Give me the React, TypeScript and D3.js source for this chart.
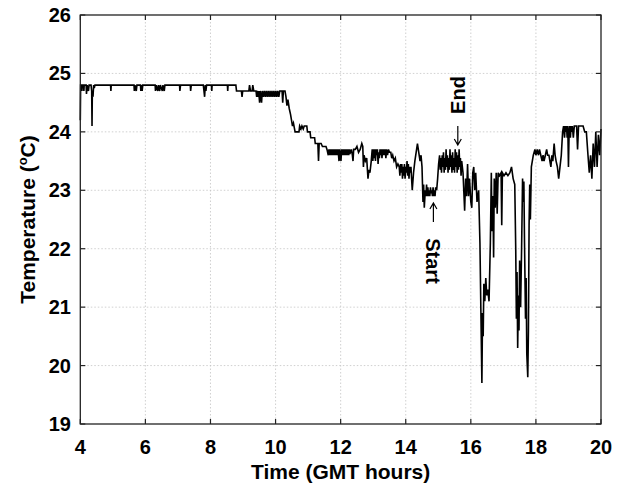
import React from "react";
import * as d3 from "d3";

// ---- data (time in GMT hours, temperature in °C) ----
const plateauSeries: [number, number][] = [
  [4.00,24.20],[4.01,24.80],[4.04,24.80],[4.05,24.70],[4.06,24.80],[4.10,24.80],[4.11,24.70],[4.12,24.80],
  [4.18,24.80],[4.19,24.65],[4.21,24.80],[4.25,24.70],[4.27,24.80],[4.33,24.80],[4.35,24.70],[4.36,24.10],
  [4.37,24.70],[4.39,24.60],[4.41,24.80],[4.43,24.75],[4.45,24.80],[4.93,24.80],[4.94,24.70],[4.95,24.80],
  [5.65,24.80],[5.66,24.70],[5.68,24.80],[5.72,24.70],[5.74,24.80],[5.85,24.80],[5.86,24.70],[5.88,24.80],
  [5.90,24.70],[5.92,24.80],[6.30,24.80],[6.31,24.70],[6.33,24.80],[6.38,24.70],[6.40,24.80],[6.44,24.70],
  [6.46,24.80],[6.52,24.70],[6.54,24.80],[6.58,24.70],[6.60,24.80],[7.05,24.80],[7.06,24.70],[7.08,24.80],
  [7.38,24.80],[7.39,24.70],[7.41,24.80],[7.78,24.80],[7.80,24.70],[7.82,24.60],[7.84,24.80],[7.86,24.70],
  [7.88,24.80],[8.03,24.80],[8.04,24.70],[8.05,24.80],[8.52,24.80],[8.53,24.70],[8.54,24.80],[8.78,24.80],
  [8.80,24.70],[8.95,24.70],[8.97,24.60],[8.99,24.70],
];

const descentSeries: [number, number][] = [
  [9.18,24.70],[9.20,24.80],[9.23,24.70],[9.28,24.70],[9.30,24.80],[9.33,24.70],[9.40,24.70],[9.42,24.60],
  [9.44,24.70],[9.46,24.60],[9.48,24.70],[9.51,24.50],[9.53,24.70],[9.55,24.60],[9.57,24.50],[9.59,24.70],
  [9.62,24.60],[9.65,24.70],[9.68,24.60],[9.71,24.70],[9.74,24.60],[9.77,24.70],[9.80,24.60],[9.83,24.70],
  [9.86,24.60],[9.89,24.70],[9.92,24.60],[9.95,24.70],[9.98,24.60],[10.01,24.70],[10.04,24.60],[10.07,24.70],
  [10.10,24.60],[10.13,24.70],[10.20,24.70],[10.22,24.50],[10.24,24.70],[10.29,24.70],[10.32,24.60],[10.35,24.45],
  [10.38,24.55],[10.42,24.40],[10.46,24.30],[10.49,24.20],[10.52,24.10],[10.55,24.15],[10.60,24.00],[10.72,24.00],
  [10.74,24.10],[10.78,24.05],[10.81,24.10],[10.85,24.05],[10.88,24.10],[10.96,24.10],[10.98,24.00],[11.06,24.00],
  [11.08,23.90],[11.20,23.90],[11.22,23.80],[11.30,23.80],[11.32,23.50],[11.34,23.80],[11.40,23.80],[11.44,23.75],
  [11.55,23.75],[11.58,23.70],
];

const middaySeries: [number, number][] = [
  [11.62,23.60],[11.64,23.70],[11.66,23.60],[11.68,23.70],[11.70,23.60],[11.72,23.70],[11.74,23.60],[11.76,23.70],
  [11.78,23.60],[11.80,23.70],[11.82,23.60],[11.84,23.70],[11.86,23.60],[11.88,23.70],[11.90,23.60],[11.92,23.70],
  [11.95,23.50],[11.97,23.70],[11.99,23.60],[12.01,23.50],[12.03,23.70],[12.05,23.60],[12.07,23.70],[12.09,23.60],
  [12.11,23.70],[12.13,23.60],[12.15,23.70],[12.17,23.60],[12.19,23.70],[12.21,23.60],[12.23,23.70],[12.25,23.60],
  [12.27,23.70],[12.30,23.65],[12.33,23.70],[12.36,23.60],[12.38,23.50],[12.40,23.70],[12.45,23.70],[12.50,23.75],
  [12.55,23.65],[12.60,23.70],[12.65,23.80],[12.68,23.75],[12.70,23.40],[12.72,23.60],[12.76,23.50],[12.80,23.55],
  [12.84,23.20],[12.87,23.35],[12.90,23.30],[12.94,23.50],[12.97,23.70],[12.99,23.50],[13.01,23.70],[13.03,23.55],
  [13.05,23.70],[13.07,23.50],[13.09,23.70],[13.11,23.60],[13.13,23.70],[13.15,23.45],[13.17,23.65],[13.19,23.55],
  [13.21,23.70],[13.23,23.60],[13.25,23.70],[13.27,23.55],[13.29,23.70],[13.31,23.60],[13.33,23.70],[13.35,23.60],
  [13.37,23.70],[13.39,23.55],[13.41,23.70],[13.44,23.60],[13.47,23.70],[13.50,23.65],[13.54,23.65],[13.57,23.55],
  [13.60,23.60],[13.64,23.50],[13.68,23.55],[13.72,23.40],[13.76,23.45],[13.80,23.40],[13.82,23.25],[13.84,23.45],
  [13.86,23.30],[13.88,23.45],[13.90,23.20],[13.92,23.40],[13.94,23.25],[13.96,23.45],[13.98,23.20],[14.00,23.40],
  [14.02,23.30],[14.04,23.50],[14.06,23.25],[14.08,23.45],[14.10,23.20],[14.12,23.40],[14.14,23.30],[14.16,23.40],
  [14.20,23.00],[14.24,23.30],[14.28,23.50],[14.32,23.65],[14.36,23.80],[14.40,23.65],[14.44,23.50],[14.47,23.60],
];

const experimentSeries: [number, number][] = [
  [14.50,23.40],[14.53,22.80],[14.55,23.10],[14.57,22.70],[14.60,23.00],[14.62,22.90],[14.64,23.10],[14.66,22.90],
  [14.68,23.05],[14.70,22.90],[14.72,23.00],[14.74,22.90],[14.76,23.05],[14.78,22.95],[14.80,23.00],[14.82,22.90],
  [14.84,23.05],[14.86,22.90],[14.88,23.00],[14.90,22.90],[14.92,23.05],[14.95,23.00],[14.98,23.20],[15.01,23.45],
  [15.04,23.60],[15.06,23.35],[15.08,23.55],[15.10,23.30],[15.12,23.60],[15.14,23.40],[15.16,23.65],[15.18,23.30],
  [15.20,23.55],[15.22,23.35],[15.24,23.70],[15.26,23.40],[15.28,23.60],[15.30,23.30],[15.32,23.55],[15.34,23.35],
  [15.36,23.70],[15.38,23.40],[15.40,23.60],[15.42,23.30],[15.44,23.65],[15.46,23.35],[15.48,23.55],[15.50,23.30],
  [15.52,23.70],[15.54,23.40],[15.56,23.65],[15.58,23.30],[15.60,23.60],[15.62,23.35],[15.64,23.70],[15.66,23.40],
  [15.68,23.55],[15.70,23.25],[15.72,23.50],[15.76,23.30],[15.81,22.65],[15.84,23.20],[15.87,22.90],[15.90,23.45],
  [15.93,22.90],[15.96,23.20],[16.00,22.80],[16.03,22.70],[16.06,23.30],[16.09,23.40],[16.12,23.00],[16.15,23.30],
  [16.19,22.80],[16.24,23.00],[16.28,22.10],[16.31,20.90],[16.34,19.70],[16.36,20.90],[16.38,20.50],[16.40,21.40],
  [16.43,21.10],[16.46,21.50],[16.49,21.20],[16.52,21.30],[16.56,21.10],[16.60,22.10],[16.63,23.30],[16.65,22.30],
  [16.68,22.90],[16.70,21.85],[16.72,23.20],[16.75,22.70],[16.78,23.30],[16.81,22.60],[16.84,23.30],[16.88,23.25],
  [16.93,23.30],[16.95,22.40],[16.97,23.30],[17.02,23.25],[17.08,23.30],[17.14,23.25],[17.20,23.30],[17.25,23.40],
  [17.30,23.20],[17.35,23.10],[17.38,22.00],[17.40,20.80],[17.42,21.60],[17.44,20.30],[17.46,21.20],[17.48,20.60],
  [17.50,21.80],[17.53,21.00],[17.56,22.00],[17.59,23.20],[17.61,22.80],[17.63,23.15],[17.65,22.10],[17.68,20.80],
  [17.70,21.50],[17.72,20.20],[17.75,19.80],[17.77,20.60],[17.79,22.40],[17.81,23.10],[17.83,22.50],[17.86,23.40],
  [17.92,23.60],[17.97,23.70],
];

const eveningSeries: [number, number][] = [
  [18.00,23.60],[18.04,23.70],[18.08,23.60],[18.11,23.70],[18.15,23.60],[18.19,23.50],[18.22,23.60],[18.25,23.50],
  [18.29,23.60],[18.33,23.70],[18.36,23.60],[18.40,23.60],[18.43,23.50],[18.46,23.40],[18.49,23.60],[18.52,23.50],
  [18.56,23.80],[18.59,23.60],[18.62,23.50],[18.66,23.40],[18.70,23.20],[18.74,23.40],[18.78,23.60],[18.82,24.00],
  [18.85,24.10],[18.88,23.90],[18.90,24.10],[18.92,24.00],[18.94,24.10],[18.96,23.90],[18.98,24.10],[19.00,23.40],
  [19.02,24.00],[19.04,24.10],[19.06,23.90],[19.08,24.10],[19.10,24.00],[19.12,24.10],[19.15,23.90],[19.18,24.10],
  [19.25,24.10],[19.28,23.70],[19.31,24.10],[19.45,24.10],[19.50,24.00],[19.55,24.00],[19.60,23.60],[19.64,23.30],
  [19.68,23.60],[19.72,23.20],[19.76,23.80],[19.80,23.40],[19.84,24.00],[19.88,23.40],[19.92,23.95],[19.96,23.60],
  [20.00,24.05],
];

const xTicks = [4, 6, 8, 10, 12, 14, 16, 18, 20];
const yTicks = [19, 20, 21, 22, 23, 24, 25, 26];

const W = 624;
const H = 486;
const M = { left: 80.3, right: 601, top: 15, bottom: 424 };
const FONT = "'Liberation Sans', Arial, Helvetica, sans-serif";

export default function App() {
  const data = [
    ...plateauSeries,
    ...descentSeries,
    ...middaySeries,
    ...experimentSeries,
    ...eveningSeries,
  ];
  const x = d3.scaleLinear().domain([4, 20]).range([M.left, M.right]);
  const y = d3.scaleLinear().domain([19, 26]).range([M.bottom, M.top]);
  const line = d3
    .line<[number, number]>()
    .x((d) => x(d[0]))
    .y((d) => y(d[1]));

  const tickLen = 5;
  const axisColor = "#222";
  const gridColor = "#c4c4c4";
  const tickFont = 20;
  const titleFont = 21;

  const endX = x(15.6);
  const startX = x(14.85);

  return (
    <svg
      width={W}
      height={H}
      style={{ position: "absolute", left: 0, top: 0, background: "#fff" }}
      fontFamily={FONT}
    >
      <rect x={0} y={0} width={W} height={H} fill="#fff" />
      {xTicks.slice(1, -1).map((t) => (
        <line key={"gx" + t} x1={x(t)} x2={x(t)} y1={M.top} y2={M.bottom}
          stroke={gridColor} strokeWidth={0.8} strokeDasharray="1.5,2" />
      ))}
      {yTicks.slice(1, -1).map((t) => (
        <line key={"gy" + t} x1={M.left} x2={M.right} y1={y(t)} y2={y(t)}
          stroke={gridColor} strokeWidth={0.8} strokeDasharray="1.5,2" />
      ))}
      <path d={line(data) || ""} fill="none" stroke="#000" strokeWidth={1.6} strokeLinejoin="miter" />
      <rect x={M.left} y={M.top} width={M.right - M.left} height={M.bottom - M.top}
        fill="none" stroke={axisColor} strokeWidth={1.3} />
      {xTicks.map((t) => (
        <g key={"tx" + t}>
          <line x1={x(t)} x2={x(t)} y1={M.bottom} y2={M.bottom - tickLen} stroke={axisColor} strokeWidth={1.2} />
          <line x1={x(t)} x2={x(t)} y1={M.top} y2={M.top + tickLen} stroke={axisColor} strokeWidth={1.2} />
          <text x={x(t)} y={454} textAnchor="middle" fontSize={tickFont} fontWeight="bold" fill="#000">
            {t}
          </text>
        </g>
      ))}
      {yTicks.map((t) => (
        <g key={"ty" + t}>
          <line x1={M.left} x2={M.left + tickLen} y1={y(t)} y2={y(t)} stroke={axisColor} strokeWidth={1.2} />
          <line x1={M.right} x2={M.right - tickLen} y1={y(t)} y2={y(t)} stroke={axisColor} strokeWidth={1.2} />
          <text x={71} y={y(t) + 7} textAnchor="end" fontSize={tickFont} fontWeight="bold" fill="#000">
            {t}
          </text>
        </g>
      ))}
      <text x={(M.left + M.right) / 2} y={479} textAnchor="middle" fontSize={titleFont} fontWeight="bold" fill="#000">
        Time (GMT hours)
      </text>
      <text
        transform={`translate(35, ${(M.top + M.bottom) / 2}) rotate(-90)`}
        textAnchor="middle"
        fontSize={titleFont}
        fontWeight="bold"
        fill="#000"
      >
        Temperature (<tspan fontSize={13} dy={-8}>o</tspan>
        <tspan dy={8}>C)</tspan>
      </text>
      <text
        transform={`translate(${endX + 7}, 95) rotate(-90)`}
        textAnchor="middle"
        fontSize={tickFont}
        fontWeight="bold"
        fill="#000"
      >
        End
      </text>
      <path
        d={`M${endX},126 L${endX},145 M${endX - 3.5},139 L${endX},145 L${endX + 3.5},139`}
        fill="none" stroke="#000" strokeWidth={1.2}
      />
      <text
        transform={`translate(${startX - 7}, 261) rotate(90)`}
        textAnchor="middle"
        fontSize={tickFont}
        fontWeight="bold"
        fill="#000"
      >
        Start
      </text>
      <path
        d={`M${startX},222 L${startX},203 M${startX - 3.5},209 L${startX},203 L${startX + 3.5},209`}
        fill="none" stroke="#000" strokeWidth={1.2}
      />
    </svg>
  );
}
